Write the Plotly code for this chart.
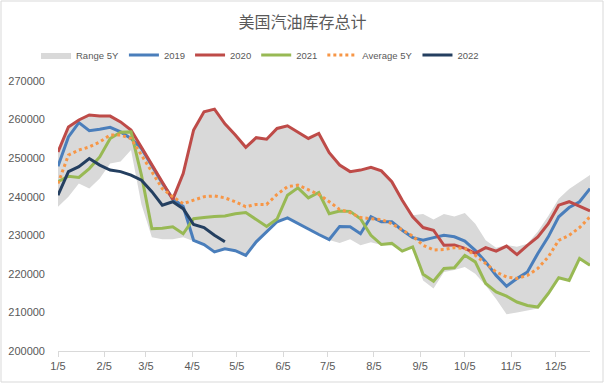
import pandas as pd
import plotly.graph_objects as go

# Weekly categories (first week 1/5, 52 weeks)
weeks = pd.date_range("2022-01-05", periods=52, freq="7D")

tick_dates = ["2022-%02d-05" % m for m in range(1, 13)]
tick_labels = ["1/5", "2/5", "3/5", "4/5", "5/5", "6/5", "7/5", "8/5", "9/5", "10/5", "11/5", "12/5"]
y_ticks = [200000, 210000, 220000, 230000, 240000, 250000, 260000, 270000]

range_low = [237400, 240000, 243400, 242100, 244700, 248600, 249100, 252100, 238000, 229500,
             229000, 229000, 229500, 228600, 227500, 225600, 226400, 225900, 224700, 228200,
             230800, 233400, 234400, 232900, 231600, 230100, 228800, 228000, 229000, 227400,
             228200, 227500, 227700, 225800, 226900, 218300, 216200, 220500, 221000, 221800,
             220000, 217000, 213500, 209500, 210000, 210500, 211000, 214800, 218900, 218200,
             223800, 222100]
range_high = [251800, 258200, 260000, 261300, 261000, 261000, 259500, 257400, 252900, 248400,
              243600, 240300, 246100, 257400, 262100, 262800, 259000, 256100, 252900, 255400,
              255000, 257800, 258500, 256800, 255200, 256500, 251500, 248300, 246600, 247000,
              247700, 246800, 244000, 239200, 235200, 235500, 234100, 235500, 234900, 235800,
              233000, 228700, 226800, 227500, 227000, 227800, 231000, 235000, 239500, 242000,
              243800, 245600]
y2019 = [247900, 255500, 259200, 257100, 257500, 258000, 256800, 255100, 252500, 248000,
         243500, 239500, 237500, 228700, 227600, 225700, 226500, 226000, 224800, 228300,
         230900, 233500, 234500, 233000, 231700, 230200, 228900, 232300, 232200, 230400,
         234800, 233500, 233500, 231300, 229400, 228700, 229400, 230000, 229600, 228500,
         226100, 223100, 219600, 216800, 218800, 220500, 225300, 229600, 234800, 237200,
         238700, 242100]
y2020 = [251600, 258100, 259900, 261200, 260900, 260900, 259400, 257300, 252800, 248300,
         243500, 239300, 246000, 257300, 262000, 262700, 258900, 256000, 252800, 255300,
         254900, 257700, 258400, 256700, 255100, 256400, 251400, 248200, 246500, 246900,
         247600, 246700, 243900, 239100, 234800, 232000, 231300, 227400, 227500, 226600,
         225300, 226800, 225900, 227200, 225000, 227400, 229600, 233000, 237800, 238700,
         237500, 236300]
y2021 = [243900, 245300, 245000, 247300, 250300, 255100, 256700, 256800, 245600, 231700,
         231800, 232200, 230400, 234300, 234600, 234900, 235000, 235600, 235900, 234100,
         232300, 234200, 240400, 242300, 239700, 241100, 235600, 236300, 236200, 234300,
         230000, 227600, 227900, 225900, 227000, 219900, 218100, 221400, 221600, 224800,
         223100, 217500, 215300, 214200, 212700, 211800, 211400, 214900, 219000, 218300,
         224000, 222200]
avg5y = [243400, 250800, 252100, 252900, 254200, 256000, 256000, 255100, 250800, 246500,
         242100, 240000, 238200, 239100, 240000, 240200, 239700, 238700, 237400, 238000,
         238000, 240600, 242600, 243000, 241700, 240600, 238700, 236700, 235900, 234600,
         234300, 234100, 233000, 231300, 229800, 227400, 226200, 226300, 226800, 226600,
         224800, 222700, 220500, 219200, 218800, 219600, 221400, 224400, 228700, 230000,
         232000, 234800]
y2022 = [240400, 246500, 247800, 249900, 248200, 246900, 246500, 245600, 244300, 241300,
         237800, 238700, 236900, 232800, 232000, 230000, 228300]

GRAY = "#D9D9D9"
TXT = "#595959"

fig = go.Figure()
fig.add_trace(go.Scatter(x=weeks, y=range_low, mode="lines", line=dict(width=0, color=GRAY),
                         showlegend=False, hoverinfo="skip"))
fig.add_trace(go.Scatter(x=weeks, y=range_high, mode="lines", name="Range 5Y",
                         line=dict(width=0, color=GRAY), fill="tonexty", fillcolor=GRAY))
fig.add_trace(go.Scatter(x=weeks, y=y2019, mode="lines", name="2019",
                         line=dict(color="#4A7EBB", width=3)))
fig.add_trace(go.Scatter(x=weeks, y=y2020, mode="lines", name="2020",
                         line=dict(color="#BE4B48", width=3)))
fig.add_trace(go.Scatter(x=weeks, y=y2021, mode="lines", name="2021",
                         line=dict(color="#98B954", width=3)))
fig.add_trace(go.Scatter(x=weeks, y=avg5y, mode="lines", name="Average 5Y",
                         line=dict(color="#F79646", width=3, dash="3px,3px")))
fig.add_trace(go.Scatter(x=weeks[:len(y2022)], y=y2022, mode="lines", name="2022",
                         line=dict(color="#243F60", width=3)))

fig.update_layout(
    width=605, height=383,
    margin=dict(l=58, r=15, t=81, b=32, autoexpand=False),
    paper_bgcolor="white", plot_bgcolor="white",
    font=dict(family="Liberation Sans, Arial, sans-serif", size=11, color=TXT),
    title=dict(text="美国汽油库存总计", x=0.5, xanchor="center", xref="container",
               y=1 - 22 / 383, yref="container", yanchor="middle",
               font=dict(family="Noto Sans CJK SC", size=16, color=TXT)),
    legend=dict(orientation="h", traceorder="normal",
                x=(36 - 58) / 532, xanchor="left", y=(351 - 55) / 270, yanchor="middle",
                font=dict(size=9.5, color=TXT), itemwidth=30,
                bgcolor="rgba(0,0,0,0)"),
    showlegend=True,
)
fig.update_xaxes(type="date", range=["2022-01-05", "2022-12-28"],
                 tickvals=tick_dates, ticktext=tick_labels,
                 showgrid=False, zeroline=False,
                 showline=True, linecolor=GRAY, linewidth=1,
                 ticks="outside", ticklen=5, tickcolor=GRAY,
                 tickfont=dict(size=11, color=TXT))
fig.update_yaxes(range=[200000, 270000], tickvals=y_ticks,
                 ticktext=[str(v) for v in y_ticks],
                 showgrid=False, zeroline=False, showline=False,
                 ticks="", ticklabelstandoff=12,
                 tickfont=dict(size=11, color=TXT))

# outer chart border
fig.add_shape(type="rect", xref="paper", yref="paper",
              x0=(1 - 58) / 532, x1=(603 - 58) / 532,
              y0=(351 - 382) / 270, y1=(351 - 1) / 270,
              line=dict(color=GRAY, width=1), fillcolor="rgba(0,0,0,0)", layer="below")

fig.write_html("out.html", config={"displayModeBar": False},
               post_script="document.body.style.margin='0px';")
